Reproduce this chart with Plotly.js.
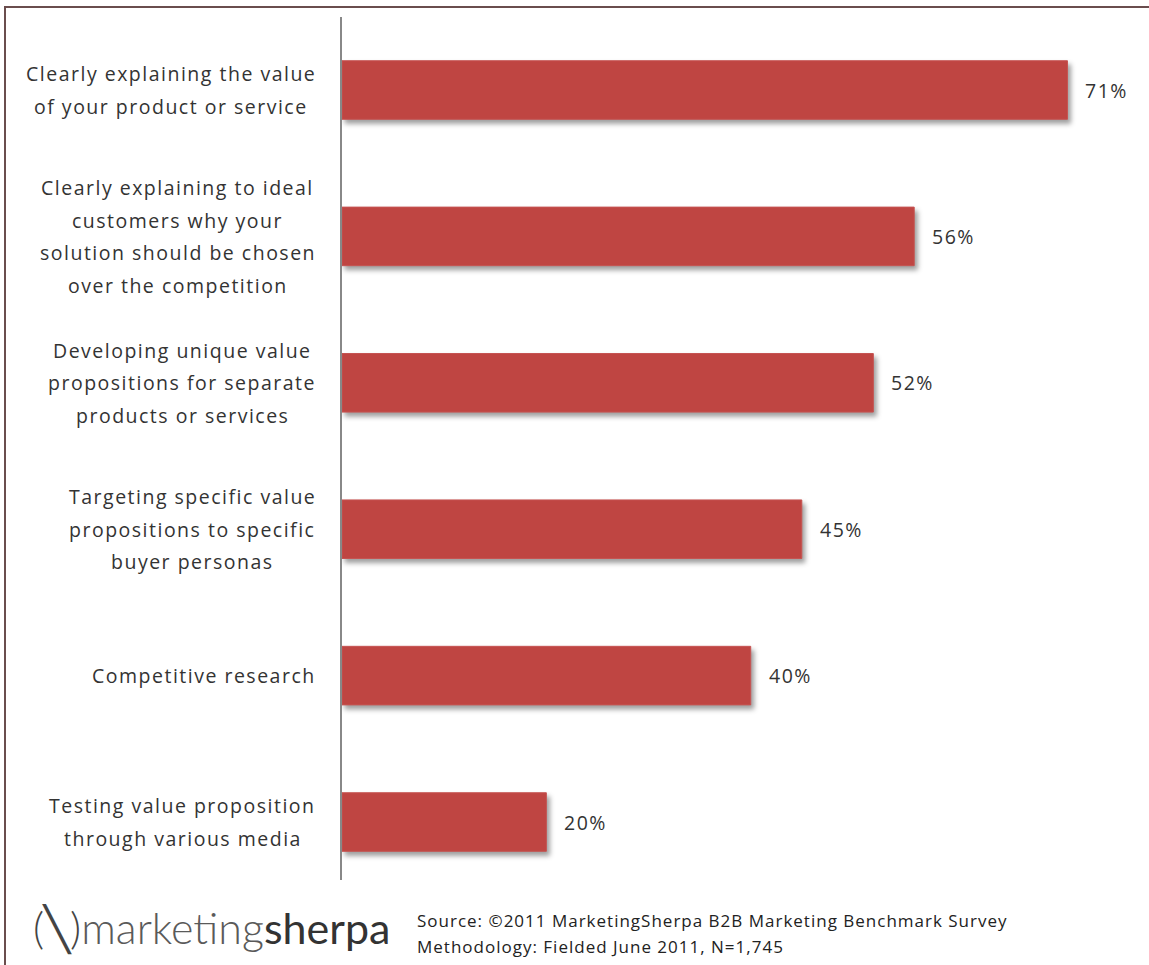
<!DOCTYPE html>
<html>
<head>
<meta charset="utf-8">
<script src="https://cdn.plot.ly/plotly-3.0.1.min.js"></script>
<style>
  html, body { margin: 0; padding: 0; background: #fff; }
  #wrap { position: relative; width: 1149px; height: 965px; overflow: hidden; }
  #chart { position: absolute; left: 0; top: 0; width: 1149px; height: 965px; }
  #frame { position: absolute; left: 4px; top: 6px; width: 1160px; height: 1000px;
           border-top: 2px solid #6a4d4d; border-left: 2px solid #6a4d4d; pointer-events: none; }
  .point path { filter: drop-shadow(3px 4px 2.5px rgba(0,0,0,0.38)); }
</style>
</head>
<body>
<div id="wrap">
  <div id="chart"></div>
  <div id="frame"></div>
</div>
<script>
// ---- data ----
const categories = [
  "Clearly explaining the value<br>of your product or service",
  "Clearly explaining to ideal<br>customers why your<br>solution should be chosen<br>over the competition",
  "Developing unique value<br>propositions for separate<br>products or services",
  "Targeting specific value<br>propositions to specific<br>buyer personas",
  "Competitive research",
  "Testing value proposition<br>through various media"
];
const values = [71, 56, 52, 45, 40, 20];
const valueLabels = values.map(v => v + "%");
const sourceLines = [
  "Source: \u00A92011 MarketingSherpa B2B Marketing Benchmark Survey",
  "Methodology: Fielded June 2011, N=1,745"
];

// ---- layout geometry ----
const W = 1149, H = 965;
const ML = 342, MR = 10, MT = 17, MB = 85;
const PW = W - ML - MR, PH = H - MT - MB;
const px2x = px => (px - ML) / PW;
const py2y = py => (H - MB - py) / PH;

const labelFont = "Open Sans";
const labelSize = 19.5;
const letterSp = 1.5;
const lineGap = 32.5;
const labelRight = 316;
const spaced = (s, ls) => "<span style='letter-spacing:" + ls + "px'>" + s + "</span>";

const ctx = document.createElement("canvas").getContext("2d");
ctx.font = labelSize + "px '" + labelFont + "'";
const measure = s => ctx.measureText(s).width + letterSp * s.length;

const annotations = [];
categories.forEach((cat, i) => {
  const lines = cat.split("<br>");
  const blockW = Math.max(...lines.map(measure));
  const cx = labelRight - blockW / 2;
  lines.forEach((ln, j) => {
    annotations.push({
      xref: "paper", yref: "y", x: px2x(cx), y: cat,
      xanchor: "center", yanchor: "middle",
      yshift: ((lines.length - 1) / 2 - j) * lineGap,
      text: spaced(ln, letterSp), showarrow: false,
      font: {family: labelFont, size: labelSize, color: "#333"}
    });
  });
});
values.forEach((v, i) => {
  annotations.push({
    xref: "x", yref: "y", x: v, y: categories[i],
    xanchor: "left", yanchor: "middle", xshift: 16,
    text: spaced(valueLabels[i], letterSp), showarrow: false,
    font: {family: labelFont, size: labelSize, color: "#333"}
  });
});
// logo
annotations.push({
  xref: "paper", yref: "paper", x: px2x(31), y: py2y(928),
  xanchor: "left", yanchor: "middle", showarrow: false,
  text: "<span style='font-weight:300;color:#444'>(\u2572)</span><span style='font-weight:300;color:#5a5a5a'>marketing</span><span style='font-weight:400;color:#333'>sherpa</span>",
  font: {family: "Lato", size: 43, color: "#555"}
});
sourceLines.forEach((s, k) => {
  annotations.push({
    xref: "paper", yref: "paper", x: px2x(415), y: py2y(921 + k * 25),
    xanchor: "left", yanchor: "middle", showarrow: false,
    text: spaced(s, 1.0), font: {family: "Open Sans", size: 17, color: "#222"}
  });
});

const trace = {
  type: "bar", orientation: "h",
  x: values, y: categories,
  width: 0.4,
  marker: {color: "#BF4542", line: {color: "#C65452", width: 1}},
  hoverinfo: "skip"
};

const layout = {
  width: W, height: H,
  margin: {l: ML, r: MR, t: MT, b: MB},
  paper_bgcolor: "#fff", plot_bgcolor: "#fff",
  showlegend: false,
  xaxis: {range: [0, 78], visible: false, showgrid: false, zeroline: false, fixedrange: true},
  yaxis: {type: "category", range: [5.396, -0.4986], showticklabels: false, ticks: "",
          showgrid: false, zeroline: false, showline: true, linecolor: "#888", linewidth: 2, fixedrange: true},
  annotations: annotations
};

Plotly.newPlot("chart", [trace], layout, {displayModeBar: false, staticPlot: true});
</script>
</body>
</html>
